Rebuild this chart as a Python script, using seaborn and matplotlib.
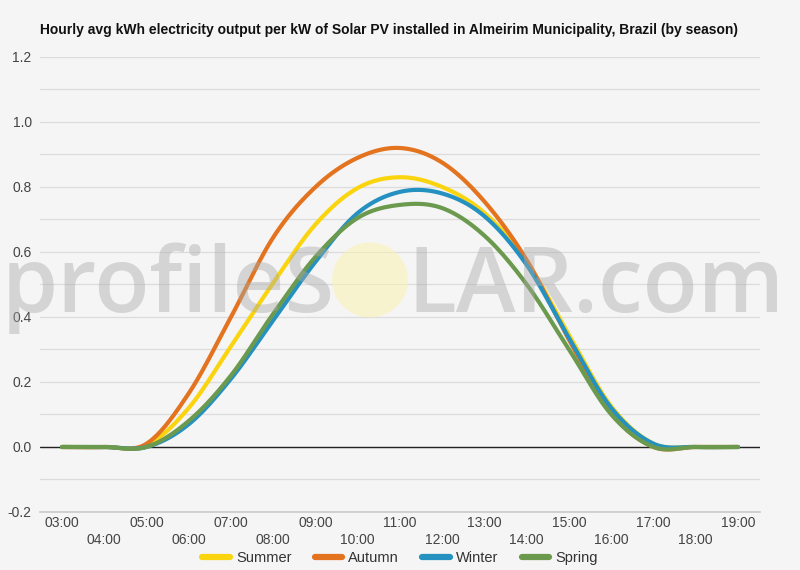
import numpy as np
import pandas as pd
import matplotlib
matplotlib.use("Agg")
import matplotlib.pyplot as plt
import seaborn as sns
from matplotlib.patches import Ellipse

# hourly values
hours = list(range(3, 20))
hour_labels = [f"{h:02d}:00" for h in hours]
summer = [0, 0, 0.005, 0.12, 0.31, 0.505, 0.685, 0.797, 0.83, 0.80, 0.72, 0.57, 0.345, 0.125, 0.01, 0, 0]
autumn = [0, 0, 0.01, 0.165, 0.40, 0.645, 0.80, 0.89, 0.92, 0.875, 0.755, 0.575, 0.33, 0.105, 0.0, 0, 0]
winter = [0, 0, 0, 0.07, 0.21, 0.39, 0.57, 0.72, 0.785, 0.78, 0.71, 0.56, 0.335, 0.12, 0.01, 0, 0]
spring = [0, 0, 0, 0.08, 0.22, 0.41, 0.585, 0.705, 0.745, 0.735, 0.65, 0.50, 0.30, 0.10, 0.0, 0, 0]
seasons = ["Summer", "Autumn", "Winter", "Spring"]
colors = ["#fad50f", "#e3731f", "#2591c1", "#6b9a4f"]


def smooth(x, y, n=20):
    # catmull-rom spline through the hourly points (like the original's curved lines)
    x = np.asarray(x, float)
    y = np.asarray(y, float)
    m = np.gradient(y, x)
    m[0] = m[-1] = 0
    xs, ys = [], []
    for i in range(len(x) - 1):
        t = np.linspace(0, 1, n, endpoint=False)
        h = x[i + 1] - x[i]
        h00 = 2 * t**3 - 3 * t**2 + 1
        h10 = t**3 - 2 * t**2 + t
        h01 = -2 * t**3 + 3 * t**2
        h11 = t**3 - t**2
        xs.append(x[i] + t * h)
        ys.append(h00 * y[i] + h10 * h * m[i] + h01 * y[i + 1] + h11 * h * m[i + 1])
    xs.append([x[-1]])
    ys.append([y[-1]])
    return np.concatenate(xs), np.concatenate(ys)


frames = []
for name, vals in zip(seasons, [summer, autumn, winter, spring]):
    sx, sy = smooth(hours, vals)
    frames.append(pd.DataFrame({"hour": sx, "kwh": sy, "season": name}))
df = pd.concat(frames, ignore_index=True)

sns.set_theme(style="white")
plt.rcParams["font.family"] = ["Liberation Sans", "DejaVu Sans"]

bg = "#f5f5f5"
fig = plt.figure(figsize=(8, 5.7), dpi=100, facecolor=bg)
ax = fig.add_axes([0.05, 0.1018, 0.90, 0.7982], facecolor=bg)

sns.lineplot(data=df, x="hour", y="kwh", hue="season", hue_order=seasons,
             palette=dict(zip(seasons, colors)), linewidth=3.0, ax=ax,
             estimator=None, sort=False, zorder=3)

ax.set_xlim(2.48, 19.52)
ax.set_ylim(-0.2, 1.2)
ax.set_yticks(np.arange(-0.2, 1.21, 0.2))
ax.set_yticklabels([f"{v:.1f}" for v in np.arange(-0.2, 1.21, 0.2)], fontsize=10, color="#444444")
ax.set_yticks(np.arange(-0.1, 1.2, 0.2), minor=True)
ax.set_xticks(hours)
ax.set_xticklabels([lab if i % 2 == 0 else "\n" + lab for i, lab in enumerate(hour_labels)],
                   fontsize=10, color="#444444", linespacing=1.3)
ax.tick_params(axis="x", length=0, pad=3)
ax.tick_params(axis="y", length=0, pad=6)
ax.grid(True, axis="y", which="both", color="#dcdcdc", linewidth=0.9)
ax.axhline(0, color="#222222", linewidth=1, zorder=2)
for s in ["top", "right", "left"]:
    ax.spines[s].set_visible(False)
ax.spines["bottom"].set_color("#cccccc")
ax.set_xlabel("")
ax.set_ylabel("")

# watermark, drawn over the plot like the original
wm = dict(va="baseline", fontsize=65, color="#a8a8a8", alpha=0.42,
          family="Open Sans", fontweight="semibold", zorder=5)
fig.text(0.418, 0.4526, "profileS", ha="right", **wm)
fig.text(0.509, 0.4526, "LAR.com", ha="left", **wm)
fig.patches.append(Ellipse((0.4625, 0.5088), 0.095, 0.1316, transform=fig.transFigure,
                           facecolor="#fbf3b0", edgecolor="none", alpha=0.55, zorder=5))

ax.legend_.remove()
handles = [plt.Line2D([], [], color=c, linewidth=4.5) for c in colors]
fig.legend(handles, seasons, loc="center", bbox_to_anchor=(0.5, 0.021), ncol=4,
           frameon=False, fontsize=10.5, handlelength=1.9, columnspacing=1.6,
           handletextpad=0.4, labelcolor="#333333")

fig.text(0.05, 0.948, "Hourly avg kWh electricity output per kW of Solar PV installed in "
         "Almeirim Municipality, Brazil (by season)", fontsize=10, fontweight="bold",
         ha="left", va="center", color="#111111")

fig.savefig("out.png", dpi=100, facecolor=bg)
